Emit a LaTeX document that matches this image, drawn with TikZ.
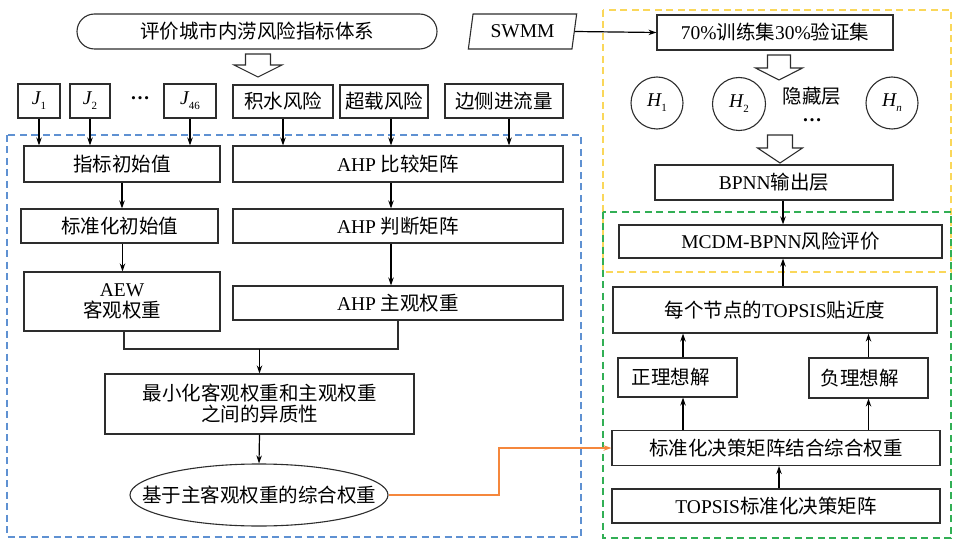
\documentclass[tikz,border=0pt]{standalone}
\usepackage{fontspec}
\setmainfont{Liberation Serif}
\newfontfamily\cjk{Noto Sans CJK SC}
\usetikzlibrary{shapes.geometric,arrows.meta}
\newcommand\zh[1]{{\cjk #1}}
\newcommand\Jsub[2]{{\itshape #1}\raisebox{-5pt}{\fontsize{11}{11}\selectfont #2}}
\newcommand\hollowarrow[6]{\draw[hol] (#1-#5,#2) -- (#1+#5,#2) -- (#1+#5,#3) -- (#1+#6,#3) -- (#1,#4) -- (#1-#6,#3) -- (#1-#5,#3) -- cycle;}
\definecolor{bluedash}{RGB}{95,145,210}
\definecolor{yellowdash}{RGB}{250,215,90}
\definecolor{greendash}{RGB}{50,175,85}
\definecolor{orangeln}{RGB}{245,135,60}
\definecolor{edge}{RGB}{45,45,45}
\begin{document}
\begin{tikzpicture}[x=1pt,y=-1pt,
  font=\fontsize{19.5}{23}\selectfont,
  bx/.style={draw=edge,line width=1.1pt,fill=white,inner sep=0pt,align=center},
  arr/.style={-{Stealth[length=8pt,width=5.5pt]},line width=1.2pt,draw=black},
  ln/.style={line width=1.4pt,draw=edge},
  oln/.style={line width=1.8pt,draw=orangeln,line join=miter},
  hol/.style={draw=edge,line width=1.1pt,fill=white},
  dbox/.style={dash pattern=on 7pt off 4.5pt,line width=1.6pt}]
\useasboundingbox (0,0) rectangle (953,540);
% dashed regions
\draw[dbox,draw=bluedash] (7,135) rectangle (581,537);
\draw[dbox,draw=yellowdash] (603,10) rectangle (951,272);
\draw[dbox,draw=greendash] (603,212) rectangle (951,538);
% top
\node[bx,rounded corners=17.5pt,minimum width=360,minimum height=35] (title) at (257,31.5) {\zh{评价城市内涝风险指标体系}};
\hollowarrow{258}{54}{65}{77}{12.5}{24}
\node[bx,minimum width=42,minimum height=34] (j1) at (39,101) {\Jsub{J}{1}};
\node[bx,minimum width=40,minimum height=34] (j2) at (90,101) {\Jsub{J}{2}};
\node (jdots) at (140,98) {\bfseries …};
\node[bx,minimum width=52,minimum height=34] (j46) at (190,101) {\Jsub{J}{46}};
\node[bx,minimum width=100,minimum height=33] (jsfx) at (283,101.5) {\zh{积水风险}};
\node[bx,minimum width=88,minimum height=33] (czfx) at (384,101.5) {\zh{超载风险}};
\node[bx,minimum width=118,minimum height=34] (bcjl) at (504,101) {\zh{边侧进流量}};
% left column
\node[bx,minimum width=196,minimum height=36] (zbcs) at (122,164) {\zh{指标初始值}};
\node[bx,minimum width=330,minimum height=36] (ahp1) at (398,164) {AHP \zh{比较矩阵}};
\node[bx,minimum width=197,minimum height=34] (bzh) at (119.5,226) {\zh{标准化初始值}};
\node[bx,minimum width=330,minimum height=34] (ahp2) at (398,226) {AHP \zh{判断矩阵}};
\node[bx,minimum width=196,minimum height=59] (aew) at (122,301.5) {AEW\\[-2pt]\zh{客观权重}};
\node[bx,minimum width=330,minimum height=34] (ahp3) at (398,303) {AHP \zh{主观权重}};
\node[bx,minimum width=309,minimum height=60] (minh) at (259.5,404) {\zh{最小化客观权重和主观权重}\\[-2pt]\zh{之间的异质性}};
\node[bx,ellipse,minimum width=258,minimum height=62] (zhqz) at (259,495) {\makebox[0pt]{\zh{基于主客观权重的综合权重}}};
% arrows left
\draw[arr] (j1.south) -- (j1.south |- zbcs.north);
\draw[arr] (j2.south) -- (j2.south |- zbcs.north);
\draw[arr] (j46.south) -- (j46.south |- zbcs.north);
\draw[arr] (jsfx.south) -- (jsfx.south |- ahp1.north);
\draw[arr] ([xshift=7pt]czfx.south) -- ([xshift=7pt]czfx.south |- ahp1.north);
\draw[arr] ([xshift=5pt]bcjl.south) -- ([xshift=5pt]bcjl.south |- ahp1.north);
\draw[arr] (zbcs.south) -- (zbcs.south |- bzh.north);
\draw[arr] ([xshift=3pt]bzh.south) -- ([xshift=3pt]bzh.south |- aew.north);
\draw[arr] ([xshift=-7pt]ahp1.south) -- ([xshift=-7pt]ahp1.south |- ahp2.north);
\draw[arr] ([xshift=-7pt]ahp2.south) -- ([xshift=-7pt]ahp2.south |- ahp3.north);
\coordinate (jn) at (259.5,349);
\draw[ln] ([xshift=2pt]aew.south) -- ([xshift=2pt]aew.south |- jn) -| (ahp3.south);
\draw[arr] (jn) -- (minh.north);
\draw[arr] (minh.south) -- (zhqz.north);
% right column
\node[bx,trapezium,trapezium left angle=77,trapezium right angle=103,trapezium stretches=true,minimum width=109,minimum height=35] (swmm) at (522.5,31.5) {SWMM};
\node[bx,minimum width=236,minimum height=35] (xl) at (775,32.5) {70\%\zh{训练集}30\%\zh{验证集}};
\draw[arr] (swmm.east) -- (xl.west);
\hollowarrow{779}{55}{68}{80}{11.5}{23.5}
\node[bx,circle,minimum size=52] (h1) at (657,103) {\Jsub{H}{1}};
\node[bx,circle,minimum size=53] (h2) at (739,104) {\Jsub{H}{2}};
\node[bx,circle,minimum size=52] (hn) at (892,103) {\Jsub{H}{\itshape n}};
\node (ycc) at (812,96) {\zh{隐藏层}};
\node (hdots) at (812,120) {\bfseries …};
\hollowarrow{780}{135}{148}{163}{12.5}{22.5}
\node[bx,minimum width=238,minimum height=35] (bpnn) at (774,182.5) {BPNN\zh{输出层}};
\node[bx,minimum width=323,minimum height=33] (mcdm) at (780.5,241.5) {MCDM-BPNN\zh{风险评价}};
\node[bx,minimum width=324,minimum height=46] (tjd) at (775,310) {\zh{每个节点的}TOPSIS\zh{贴近度}};
\node[bx,minimum width=119,minimum height=39] (zlx) at (677.5,377.5) {\zh{正理想解}\hspace*{14pt}};
\node[bx,minimum width=119,minimum height=40] (flx) at (868.5,378) {\zh{负理想解}\hspace*{18pt}};
\node[bx,minimum width=328,minimum height=35] (jcqz) at (776,448) {\zh{标准化决策矩阵结合综合权重}};
\node[bx,minimum width=328,minimum height=34] (tbz) at (776,506) {TOPSIS\zh{标准化决策矩阵}};
\coordinate (bx783) at (783,0);
\draw[arr] (bx783 |- bpnn.south) -- (bx783 |- mcdm.north);
\draw[arr] (bx783 |- tjd.north) -- (bx783 |- mcdm.south);
\draw[arr] ([xshift=5.5pt]zlx.north) -- ([xshift=5.5pt]zlx.north |- tjd.south);
\draw[arr] (flx.north) -- (flx.north |- tjd.south);
\draw[arr] ([xshift=5.5pt]zlx.south |- jcqz.north) -- ([xshift=5.5pt]zlx.south);
\draw[arr] (flx.south |- jcqz.north) -- (flx.south);
\draw[arr] ([xshift=3pt]tbz.north) -- ([xshift=3pt]tbz.north |- jcqz.south);
\coordinate (oc1) at (499,495);
\coordinate (oc2) at (oc1 |- jcqz.west);
\draw[oln] (zhqz.east) -- (oc1) -- (oc2) -- ([xshift=-6pt]jcqz.west);
\draw[oln,-{Stealth[length=8pt,width=5.5pt]}] ([xshift=-8pt]jcqz.west) -- (jcqz.west);
\end{tikzpicture}
\end{document}
